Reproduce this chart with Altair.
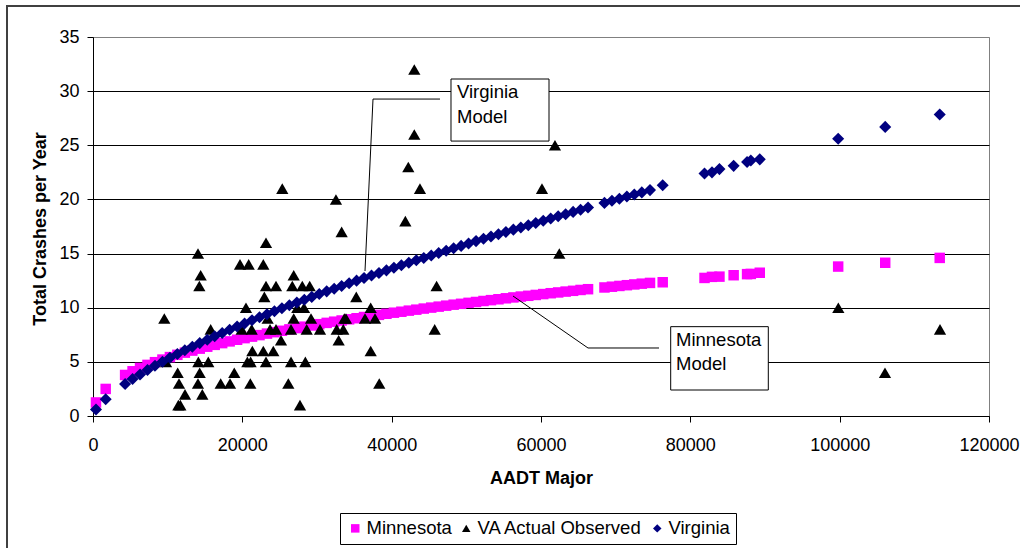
import altair as alt
import pandas as pd

# ---------------- data ----------------
# AADT of the modelled sites (shared by both model series)
model_aadt = [400, 1700,
              4300, 5300, 6300, 7300, 8300, 9300, 10300, 11300, 12300, 13300,
              14300, 15300, 16300, 17300, 18300, 19300, 20300, 21300, 22300, 23300,
              24300, 25300, 26300, 27300, 28300, 29300, 30300, 31300, 32300, 33300,
              34300, 35300, 36300, 37300, 38300, 39300, 40300, 41300, 42300, 43300,
              44300, 45300, 46300, 47300, 48300, 49300, 50300, 51300, 52300, 53300,
              54300, 55300, 56300, 57300, 58300, 59300, 60300, 61300, 62300, 63300,
              64300, 65300, 66300,
              68500, 69500, 70500, 71500, 72500, 73500, 74600, 76300,
              81900, 82900, 83900, 85800, 87600, 88100, 89300,
              99800, 106100, 113400]

minnesota_pred = [1.25, 2.5,
                  3.79, 4.13, 4.44, 4.72, 4.97, 5.21, 5.44, 5.65, 5.85, 6.04,
                  6.22, 6.40, 6.57, 6.73, 6.89, 7.04, 7.19, 7.33, 7.47, 7.61,
                  7.74, 7.87, 8.00, 8.12, 8.25, 8.36, 8.48, 8.60, 8.71, 8.82,
                  8.93, 9.03, 9.14, 9.24, 9.34, 9.44, 9.54, 9.63, 9.73, 9.82,
                  9.92, 10.01, 10.10, 10.19, 10.28, 10.36, 10.45, 10.53, 10.62, 10.70,
                  10.78, 10.87, 10.95, 11.03, 11.10, 11.18, 11.26, 11.34, 11.41, 11.49,
                  11.56, 11.64, 11.71,
                  11.87, 11.94, 12.01, 12.08, 12.15, 12.22, 12.29, 12.35,
                  12.75, 12.85, 12.87, 13.0, 13.1, 13.12, 13.23,
                  13.8, 14.15, 14.6]

virginia_pred = [0.6, 1.55,
                 2.95, 3.41, 3.84, 4.25, 4.64, 5.01, 5.37, 5.73, 6.07, 6.40,
                 6.73, 7.05, 7.36, 7.67, 7.97, 8.26, 8.55, 8.84, 9.12, 9.40,
                 9.68, 9.95, 10.22, 10.48, 10.74, 11.00, 11.26, 11.51, 11.76, 12.01,
                 12.25, 12.50, 12.74, 12.98, 13.21, 13.45, 13.69, 13.92, 14.15, 14.38,
                 14.60, 14.82, 15.05, 15.27, 15.49, 15.71, 15.93, 16.15, 16.36, 16.57,
                 16.79, 17.00, 17.21, 17.41, 17.62, 17.83, 18.03, 18.24, 18.44, 18.64,
                 18.85, 19.04, 19.25,
                 19.68, 19.87, 20.07, 20.27, 20.46, 20.65, 20.86, 21.3,
                 22.4, 22.5, 22.8, 23.1, 23.45, 23.6, 23.7,
                 25.6, 26.7, 27.85]

va_obs_aadt = [9550, 9780, 11340, 11520, 11430, 11700, 12320,
               14060, 14420, 14240, 14110, 15440, 14290, 14060, 14640,
               15760, 17100, 18350, 18920,
               19690, 20850, 22810, 23170,
               20490, 19910, 21250, 21340, 20670, 21110, 21070,
               23170, 24510, 22950, 23390, 23710, 24510, 22810, 24150, 23170,
               25180, 25350,
               26880, 26690, 26880, 26520, 26520, 26160, 27720,
               28030, 29020, 27360, 28260, 29200, 28620, 30400, 28440,
               32540, 33300, 32640, 33520, 32900, 33660, 33880,
               35260, 37190, 36430, 37770, 37190, 38340,
               41830, 42230, 43030, 43030, 43790, 46020, 45760,
               60130, 61870, 62450,
               99820, 106070, 113440]
va_obs_crashes = [9, 5, 4, 3, 1, 1, 2,
                  15, 13, 12, 5, 5, 4, 3, 2,
                  8, 3, 3, 4,
                  14, 14, 14, 16,
                  10, 8, 8, 6, 5, 5, 3,
                  12, 12, 11, 9, 8, 8, 6, 6, 5,
                  7, 21,
                  13, 12, 9, 8, 5, 3, 1,
                  12, 12, 10, 10, 9, 8, 8, 5,
                  20, 17, 8, 8, 7, 9, 9,
                  11, 10, 9, 9, 6, 3,
                  18, 23, 32, 26, 21, 12, 8,
                  21, 25, 15,
                  10, 4, 8]

series_names = ["Minnesota", "VA Actual Observed", "Virginia"]
series_colors = ["#FF00FF", "#000000", "#000080"]
series_shapes = ["square", "triangle-up", "diamond"]

x_ticks = [0, 20000, 40000, 60000, 80000, 100000, 120000]
y_ticks = [0, 5, 10, 15, 20, 25, 30, 35]

# call-out boxes (data units)
box_x = [47946, 77370]
box_x2 = [61072, 90442]
box_y = [31.12, 8.25]
box_y2 = [25.39, 2.40]
callout_text = ["Virginia", "Model", "Minnesota", "Model"]
callout_text_x = [48750, 48750, 78080, 78080]
callout_text_y = [29.34, 27.03, 6.46, 4.25]
leader_x = [46473, 37500, 56250, 66295]
leader_x2 = [37500, 36429, 66295, 75804]
leader_y = [29.27, 29.27, 11.08, 6.28]
leader_y2 = [29.27, 13.39, 6.28, 6.28]

FONT = "Liberation Sans"

# ---------------- frames ----------------
mn_df = pd.DataFrame({"aadt": model_aadt, "crashes": minnesota_pred, "series": "Minnesota"})
va_df = pd.DataFrame({"aadt": va_obs_aadt, "crashes": va_obs_crashes, "series": "VA Actual Observed"})
vi_df = pd.DataFrame({"aadt": model_aadt, "crashes": virginia_pred, "series": "Virginia"})
box_df = pd.DataFrame({"aadt": box_x, "aadt2": box_x2, "crashes": box_y, "crashes2": box_y2})
txt_df = pd.DataFrame({"aadt": callout_text_x, "crashes": callout_text_y, "label": callout_text})
lead_df = pd.DataFrame({"aadt": leader_x, "aadt2": leader_x2, "crashes": leader_y, "crashes2": leader_y2})

xscale = alt.Scale(domain=[0, 120000], nice=False, zero=True)
yscale = alt.Scale(domain=[0, 35], nice=False, zero=True)

xaxis = alt.Axis(values=x_ticks, format="d", grid=False, labelPadding=14, labelFlush=False,
                 labelOverlap=False, title="AADT Major", titleY=67, titleBaseline="alphabetic")
yaxis = alt.Axis(values=y_ticks, grid=True, labelPadding=8, labelFlush=False,
                 title="Total Crashes per Year", titleAngle=270, titleX=-48, titleY=191.5,
                 titleBaseline="alphabetic", titleAlign="center",
                 gridColor={"condition": {"test": "datum.value === 35", "value": "#808080"},
                            "value": "black"})

X = alt.X("aadt:Q", scale=xscale, axis=xaxis)
Y = alt.Y("crashes:Q", scale=yscale, axis=yaxis)

legend = alt.Legend(orient="none", legendX=247, legendY=476, direction="horizontal", title=None,
                    strokeColor="black", fillColor="white", padding=6,
                    labelFont=FONT, labelFontSize=18.5, labelColor="black", labelLimit=400,
                    symbolSize=72, symbolStrokeWidth=0, labelOffset=2, columnPadding=5)

color = alt.Color("series:N", scale=alt.Scale(domain=series_names, range=series_colors), legend=legend)
shape = alt.Shape("series:N", scale=alt.Scale(domain=series_names, range=series_shapes), legend=legend)

pink = alt.Chart(mn_df).mark_point(filled=True, opacity=1, size=110).encode(x=X, y=Y, color=color, shape=shape)
tri = alt.Chart(va_df).mark_point(filled=True, opacity=1, size=150).encode(x=X, y=Y, color=color, shape=shape)
blue = alt.Chart(vi_df).mark_point(filled=True, opacity=1, size=145).encode(x=X, y=Y, color=color, shape=shape)

leaders = alt.Chart(lead_df).mark_rule(color="black", strokeWidth=1).encode(
    x=X, x2="aadt2:Q", y=Y, y2="crashes2:Q")
boxes = alt.Chart(box_df).mark_rect(fill="white", stroke="black", strokeWidth=1).encode(
    x=X, x2="aadt2:Q", y=Y, y2="crashes2:Q")
texts = alt.Chart(txt_df).mark_text(align="left", baseline="alphabetic", font=FONT,
                                    fontSize=18.5, color="black").encode(x=X, y=Y, text="label:N")

frame_df = pd.DataFrame({"k": [0]})
top_border = alt.Chart(frame_df).mark_rule(color="#404040", strokeWidth=2).encode(
    x=alt.value(-86), x2=alt.value(930), y=alt.value(-31))
left_border = alt.Chart(frame_df).mark_rule(color="#404040", strokeWidth=2).encode(
    x=alt.value(-86), y=alt.value(-32), y2=alt.value(515))

chart = alt.layer(pink, tri, blue, leaders, boxes, texts, top_border, left_border).properties(
    width=896, height=379,
    padding={"left": 93, "top": 37, "right": 31, "bottom": 132},
    autosize=alt.AutoSizeParams(type="none"),
    background="white",
).configure(font=FONT).configure_view(
    stroke="#808080", strokeWidth=1
).configure_axis(
    labelFont=FONT, labelFontSize=18, labelColor="black",
    titleFont=FONT, titleFontSize=18, titleFontWeight="bold", titleColor="black",
    domainColor="black", domainWidth=1, tickColor="black", tickSize=6, tickWidth=1,
    gridWidth=1, gridOpacity=1,
)

chart.save("out.html", embed_options={"renderer": "svg", "actions": False})
